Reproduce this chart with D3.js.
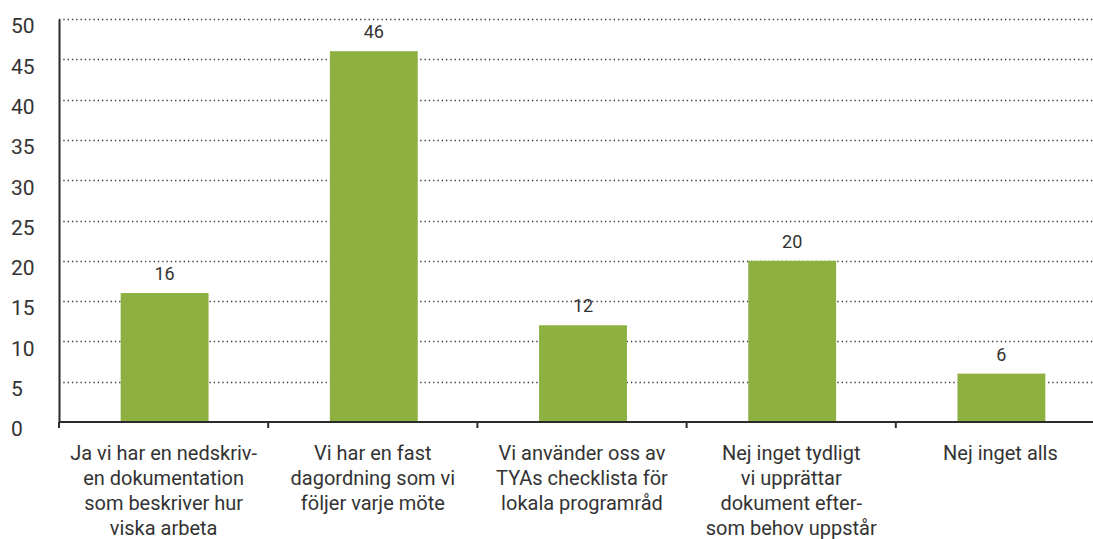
<!DOCTYPE html>
<html>
<head>
<meta charset="utf-8">
<script src="https://cdn.jsdelivr.net/npm/d3@7"></script>
<style>
  body { margin: 0; background: #fff; }
  text { font-family: Roboto, "Noto Sans", sans-serif; fill: #333; }
</style>
</head>
<body>
<div id="chart"></div>
<script>
const categories = [
  ["Ja vi har en nedskriv-", "en dokumentation", "som beskriver hur", "viska arbeta"],
  ["Vi har en fast", "dagordning som vi", "följer varje möte"],
  ["Vi använder oss av", "TYAs checklista för", "lokala programråd"],
  ["Nej inget tydligt", "vi upprättar", "dokument efter-", "som behov uppstår"],
  ["Nej inget alls"]
];
const values = [16, 46, 12, 20, 6];
const yTicks = [0, 5, 10, 15, 20, 25, 30, 35, 40, 45, 50];

const svgWidth = 1093;
const svgHeight = 539;
const margin = { top: 19, right: 0, bottom: 117, left: 59 };
const height = svgHeight - margin.top - margin.bottom;

const svg = d3.select("#chart").append("svg")
  .attr("width", svgWidth)
  .attr("height", svgHeight);

const g = svg.append("g")
  .attr("transform", "translate(" + margin.left + "," + margin.top + ")");

const xScale = d3.scaleBand()
  .domain(d3.range(categories.length))
  .range([0, 1046])
  .paddingInner(0.58)
  .paddingOuter(0.29);

const bandStep = xScale.step();
const yScale = d3.scaleLinear()
  .domain([0, 50])
  .range([height, 0]);

// dotted gridlines
g.selectAll(".grid")
  .data(yTicks.filter(d => d > 0))
  .enter().append("line")
  .attr("x1", 0)
  .attr("x2", svgWidth - margin.left)
  .attr("y1", d => Math.round(yScale(d)) + 0.5)
  .attr("y2", d => Math.round(yScale(d)) + 0.5)
  .attr("stroke", "#333")
  .attr("stroke-width", 1.3)
  .attr("stroke-dasharray", "1.3,3");

// bars
g.selectAll(".bar")
  .data(values)
  .enter().append("rect")
  .attr("x", (d, i) => xScale(i) + 1)
  .attr("y", d => yScale(d))
  .attr("width", xScale.bandwidth())
  .attr("height", d => height - yScale(d))
  .attr("fill", "#8db040");

// value labels
g.selectAll(".val")
  .data(values)
  .enter().append("text")
  .attr("x", (d, i) => xScale(i) + 1 + xScale.bandwidth() / 2)
  .attr("y", d => yScale(d) - 13)
  .attr("text-anchor", "middle")
  .attr("font-size", 18)
  .text(d => d);

// y axis
const yAxis = g.append("g")
  .call(d3.axisLeft(yScale).tickValues(yTicks).tickSize(0).tickPadding(13));
yAxis.select(".domain").attr("stroke", "#2b2b2b").attr("stroke-width", 2);
yAxis.selectAll("text")
  .attr("font-size", 21)
  .attr("text-anchor", "start")
  .attr("x", -48)
  .attr("dy", "0.66em")
  .style("font-family", "Roboto, sans-serif")
  .attr("fill", "#333");

// x baseline with boundary ticks
const xg = g.append("g").attr("transform", "translate(0," + height + ")");
xg.append("line")
  .attr("x1", 0).attr("x2", svgWidth - margin.left)
  .attr("y1", 0).attr("y2", 0)
  .attr("stroke", "#2b2b2b").attr("stroke-width", 2);
xg.selectAll(".tick")
  .data(d3.range(categories.length))
  .enter().append("line")
  .attr("x1", d => d * bandStep)
  .attr("x2", d => d * bandStep)
  .attr("y1", 0).attr("y2", 6)
  .attr("stroke", "#2b2b2b").attr("stroke-width", 2);

// category labels
const labels = xg.selectAll(".cat")
  .data(categories)
  .enter().append("text")
  .attr("text-anchor", "middle")
  .attr("font-size", 20)
  .attr("transform", (d, i) => "translate(" + (xScale(i) + xScale.bandwidth() / 2) + ",38)");
labels.selectAll("tspan")
  .data(d => d)
  .enter().append("tspan")
  .attr("x", 0)
  .attr("y", (d, j) => j * 25)
  .text(d => d);
</script>
</body>
</html>
